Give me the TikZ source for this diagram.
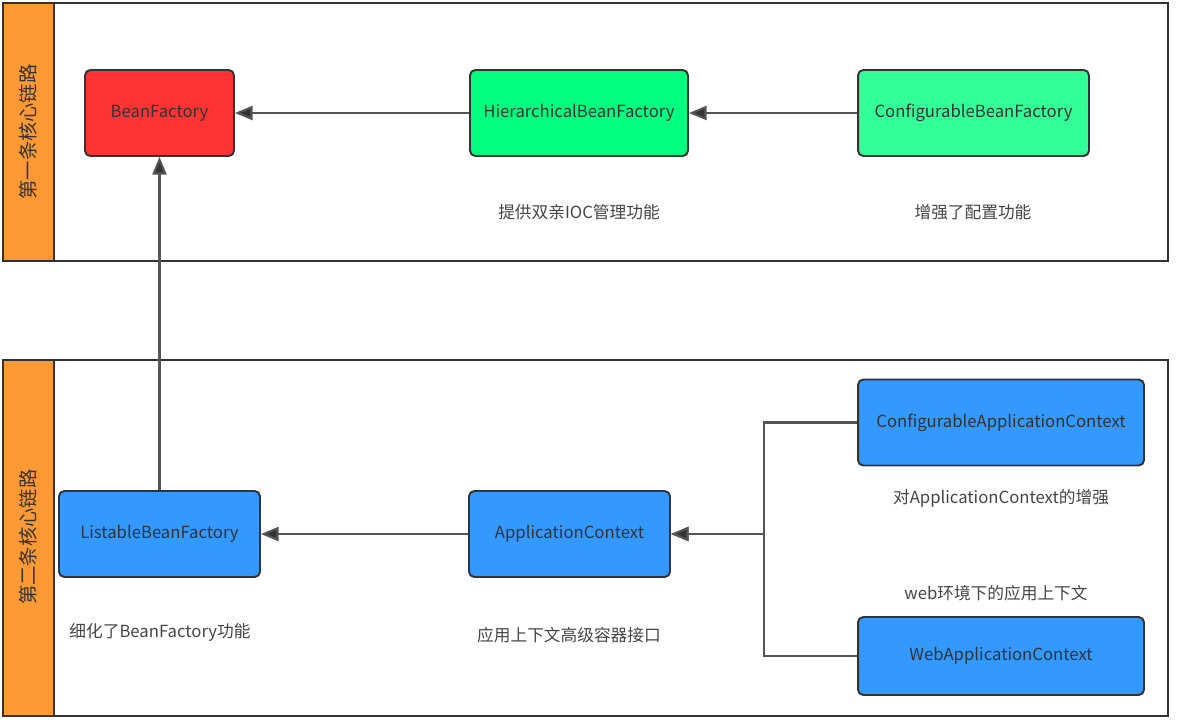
\documentclass[tikz,border=0pt]{standalone}
\usepackage{fontspec}
\setmainfont{Noto Sans CJK SC}
\usepackage{tikz}
\usetikzlibrary{arrows.meta, positioning, calc}
\definecolor{frameline}{RGB}{51, 51, 51}
\definecolor{wire}{RGB}{85, 85, 85}
\definecolor{inktext}{RGB}{51, 51, 51}
\definecolor{notetext}{RGB}{68, 68, 68}
\definecolor{lane}{RGB}{255, 153, 51}
\definecolor{rootred}{RGB}{255, 51, 51}
\definecolor{hiergreen}{RGB}{0, 255, 127}
\definecolor{confgreen}{RGB}{51, 255, 153}
\definecolor{ctxblue}{RGB}{51, 153, 255}

\begin{document}
\begin{tikzpicture}[x=0.02cm, y=-0.02cm,
  bx/.style={rectangle, rounded corners=3pt, draw=frameline, line width=1.1pt,
    font=\fontsize{9.5pt}{11pt}\selectfont, text=inktext,
    minimum height=1.72cm, inner sep=2pt},
  arr/.style={-{Triangle[length=10pt, width=8pt, fill=frameline]},
    line width=1.2pt, color=wire},
  lbl/.style={font=\fontsize{9.5pt}{11pt}\selectfont, text=notetext},
  lanetxt/.style={font=\fontsize{11pt}{13pt}\selectfont, text=inktext, rotate=90}
]
\useasboundingbox (0,0) rectangle (1182,727);
% two lanes
\draw[frameline, line width=1.1pt] (3,3) rectangle (1168,261);
\draw[frameline, line width=1.1pt, fill=lane] (3,3) rectangle (54,261);
\draw[frameline, line width=1.1pt] (3,360) rectangle (1168,716);
\draw[frameline, line width=1.1pt, fill=lane] (3,360) rectangle (54,716);
\node[lanetxt] at (28,132) (lane1) {第一条核心链路};
\node[lanetxt] at (28,537) (lane2) {第二条核心链路};

% first chain
\node[bx, fill=rootred, minimum width=2.98cm]
  at (159.5,113) (bf)   {BeanFactory};
\node[bx, fill=hiergreen, minimum width=4.36cm]
  at (579,113)   (hbf)  {HierarchicalBeanFactory};
\node[bx, fill=confgreen, minimum width=4.62cm]
  at (973.5,113) (cbf)  {ConfigurableBeanFactory};
\node[lbl] at (579,212) (hbfnote) {提供双亲IOC管理功能};
\node[lbl] at (973,212) (cbfnote) {增强了配置功能};
\draw[arr] (hbf.west) -- (bf.east);
\draw[arr] (cbf.west) -- (hbf.east);

% second chain
\node[bx, fill=ctxblue, minimum width=4.02cm]
  at (159.5,534) (lbf)  {ListableBeanFactory};
\node[bx, fill=ctxblue, minimum width=4.02cm]
  at (569.5,534) (ac)   {ApplicationContext};
\node[bx, fill=ctxblue, minimum width=5.72cm]
  at (1001,422.5) (cac) {ConfigurableApplicationContext};
\node[bx, fill=ctxblue, minimum width=5.72cm, minimum height=1.56cm]
  at (1001,656)  (wac)  {WebApplicationContext};
\node[lbl] at (160,632)  (lbfnote) {细化了BeanFactory功能};
\node[lbl] at (569,635)  (acnote)  {应用上下文高级容器接口};
\node[lbl] at (1001,498) (cacnote) {对ApplicationContext的增强};
\node[lbl] at (996,593)  (wacnote) {web环境下的应用上下文};
\coordinate (join) at (764,534);
\draw[arr] (lbf.north) -- (bf.south);
\draw[arr] (ac.west) -- (lbf.east);
\draw[arr] (cac.west) -| (join) -- (ac.east);
\draw[arr] (wac.west) -| (join) -- (ac.east);
\end{tikzpicture}
\end{document}
